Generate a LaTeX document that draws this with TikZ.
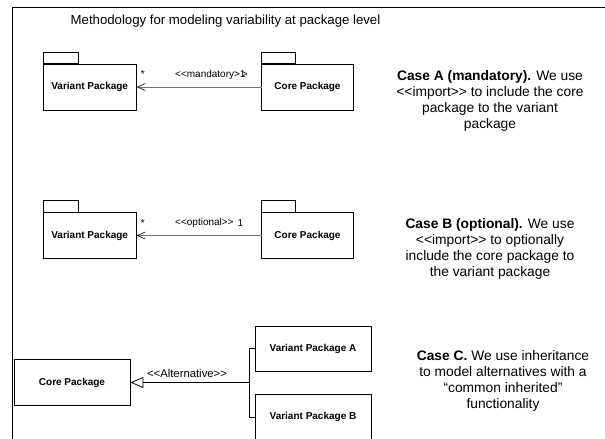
\documentclass[tikz,border=0pt]{standalone}
\usepackage{fontspec}
\setmainfont{Liberation Sans}
\usetikzlibrary{arrows.meta}
\newcommand{\dlt}{<\kern0pt<}
\newcommand{\dgt}{>\kern0pt>}
\begin{document}
\begin{tikzpicture}[x=1pt,y=-1pt,
  pkg/.style={draw, line width=0.8pt, inner sep=0pt, font=\fontsize{10}{12}\selectfont\bfseries},
  casetext/.style={align=center, font=\fontsize{13.8}{16}\selectfont, inner sep=0pt},
  lbl/.style={font=\fontsize{10}{12}\selectfont, inner sep=0pt},
  dep/.style={draw=black!55, line width=1pt, dash pattern=on 0.5pt off 0.5pt,
    -{Straight Barb[length=8pt,width=7pt,line width=0.7pt,color=black!85]}},
  gen/.style={draw, line width=0.8pt, -{Triangle[open,length=13pt,width=11pt,line width=0.8pt]}},
  tab/.style={draw, line width=0.8pt},
]
\clip (0,0) rectangle (605,439);
\fill[white] (0,0) rectangle (605,439);
% frame
\draw[line width=0.9pt] (12.5,460) -- (12.5,7.5) -- (620,7.5);
\node[font=\fontsize{13.2}{15}\selectfont, inner sep=0pt] (title) at (225.5,21) {Methodology for modeling variability at package level};

% Case A
\node[pkg, minimum width=92.7pt, minimum height=46pt] (va) at (89.7,87) {Variant Package};
\node[pkg, minimum width=91.6pt, minimum height=46pt] (ca) at (307.5,87) {Core Package};
\draw[tab] ([yshift=11.3pt]va.north west) rectangle ([xshift=35.4pt]va.north west);
\draw[tab] ([yshift=11.3pt]ca.north west) rectangle ([xshift=34.3pt]ca.north west);
\draw[dep] (ca.west) -- (va.east);
\node[lbl] (sa) at (142.7,74) {*};
\node[lbl, anchor=west] (la) at (175,75) {\dlt mandatory>\rlap{\kern2pt>}1};
\node[casetext] (ta) at (490,101) {\textbf{Case A (mandatory).} We use\\ \dlt import\dgt{} to include the core\\ package to the variant\\ package};

% Case B
\node[pkg, minimum width=92.7pt, minimum height=45.6pt] (vb) at (89.7,235.5) {Variant Package};
\node[pkg, minimum width=91.6pt, minimum height=45.6pt] (cb) at (307.5,235.5) {Core Package};
\draw[tab] ([yshift=12pt]vb.north west) rectangle ([xshift=35.4pt]vb.north west);
\draw[tab] ([yshift=12pt]cb.north west) rectangle ([xshift=34.3pt]cb.north west);
\draw[dep] (cb.west) -- (vb.east);
\node[lbl] (sb) at (142.7,223) {*};
\node[lbl, anchor=west] (lb) at (175,223) {\dlt optional\dgt};
\node[lbl] (mb) at (240.5,223) {1};
\node[casetext] (tb) at (490,248.5) {\textbf{Case B (optional).} We use\\ \dlt import\dgt{} to optionally\\ include the core package to\\ the variant package};

% Case C
\node[pkg, minimum width=116pt, minimum height=46.7pt] (cc) at (72,382.5) {Core Package};
\node[pkg, minimum width=116pt, minimum height=45.7pt] (pa) at (313,348.8) {Variant Package A};
\node[pkg, minimum width=116pt, minimum height=46pt] (pb) at (313,417) {Variant Package B};
\draw[line width=0.8pt] (pa.west) -- ++(-5,0) coordinate (ja) -- (ja |- pb.west) -- (pb.west);
\coordinate (jc) at (ja |- cc.east);
\draw[gen] (jc) -- (cc.east);
\node[font=\fontsize{11.3}{13}\selectfont, inner sep=0pt] (lc) at (187,373) {\dlt Alternative\dgt};
\node[casetext] (tc) at (503,381) {\textbf{Case C.} We use inheritance\\ to model alternatives with a\\ “common inherited”\\ functionality};
\end{tikzpicture}
\end{document}
